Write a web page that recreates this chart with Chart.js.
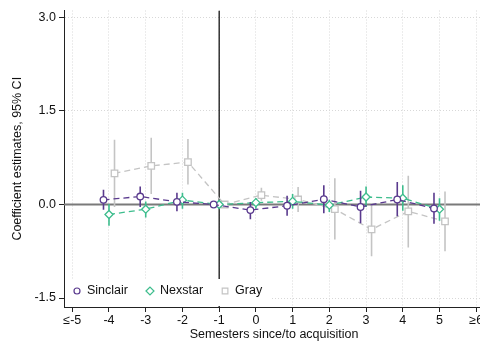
<!DOCTYPE html>
<html>
<head>
<meta charset="utf-8">
<script src="https://cdn.jsdelivr.net/npm/chart.js@4.4.1/dist/chart.umd.min.js"></script>
<style>
  html, body { margin: 0; padding: 0; background: #fff; overflow: hidden; }
  #wrap { width: 480px; height: 345px; overflow: hidden; }
</style>
</head>
<body>
<div id="wrap"><canvas id="chart" width="490" height="345"></canvas></div>
<script>
// semesters relative to acquisition (-1 is the reference period)
const periods = [-4, -3, -2, -1, 0, 1, 2, 3, 4, 5];

const sinclairCoef = [0.075, 0.128, 0.043, 0, -0.09, -0.02, 0.085, -0.04, 0.08, -0.064];
const sinclairLo   = [-0.085, -0.04, -0.11, null, -0.235, -0.18, -0.14, -0.30, -0.19, -0.31];
const sinclairHi   = [0.235, 0.29, 0.19, null, 0.04, 0.14, 0.31, 0.22, 0.36, 0.19];

const nexstarCoef = [-0.16, -0.075, 0.07, 0, 0.03, 0.05, -0.01, 0.12, 0.10, -0.075];
const nexstarLo   = [-0.34, -0.21, -0.07, null, -0.07, -0.07, -0.12, -0.04, -0.10, -0.26];
const nexstarHi   = [0.01, 0.05, 0.19, null, 0.10, 0.17, 0.075, 0.29, 0.31, 0.10];

const grayCoef = [0.50, 0.62, 0.68, 0, 0.15, 0.08, -0.075, -0.40, -0.11, -0.27];
const grayLo   = [-0.04, 0.17, 0.32, null, 0.06, -0.12, -0.56, -0.83, -0.69, -0.75];
const grayHi   = [1.04, 1.07, 1.05, null, 0.27, 0.28, 0.42, -0.02, 0.46, 0.21];

const xTicks = [-5, -4, -3, -2, -1, 0, 1, 2, 3, 4, 5, 6];
const xTickLabels = ['≤-5', '-4', '-3', '-2', '-1', '0', '1', '2', '3', '4', '5', '≥6'];
const yTicks = [-1.5, 0, 1.5, 3];

const X_MIN = -5.2254, X_MAX = 6.2146, Y_MIN = -1.644, Y_MAX = 3.112;
const FONT = 'Liberation Sans, Arial, sans-serif';

const PURPLE = '#5a3a8e';
const GREEN = '#3dbd8d';
const GRAY = '#c4c4c4';

function coefPoints(coef, off) {
    return periods.map((p, i) => ({ x: p + off, y: coef[i] }));
}

// vertical CI spikes, broken apart with null points
function ciPoints(lo, hi, off) {
    const pts = [];
    periods.forEach((p, i) => {
        if (lo[i] === null) return;
        pts.push({ x: p + off, y: lo[i] }, { x: p + off, y: hi[i] }, { x: p + off, y: null });
    });
    return pts;
}

function ciSet(lo, hi, off, color, order) {
    return {
        data: ciPoints(lo, hi, off),
        borderColor: color,
        borderWidth: 1.6,
        pointRadius: 0,
        spanGaps: false,
        order: order,
        inLegend: false
    };
}

function coefSet(label, coef, off, color, style, radius, order) {
    return {
        label: label,
        data: coefPoints(coef, off),
        borderColor: color,
        borderWidth: 1.3,
        borderDash: [6, 4],
        pointStyle: style,
        pointRadius: radius,
        pointBorderWidth: 1.3,
        pointBackgroundColor: '#fff',
        pointBorderColor: color,
        order: order,
        inLegend: true
    };
}

// legend drawn inside the plot, bottom-left, on a white box
const insideLegend = {
    id: 'insideLegend',
    afterDatasetsDraw(chart) {
        const ctx = chart.ctx;
        const area = chart.chartArea;
        ctx.save();
        ctx.fillStyle = '#fff';
        ctx.fillRect(area.left + 1, 279, 206, area.bottom - 279 - 1);
        ctx.font = '12.5px ' + FONT;
        ctx.textBaseline = 'middle';
        let x = 77;
        const y = 291;
        chart.data.datasets.filter(d => d.inLegend).reverse().forEach(d => {
            ctx.strokeStyle = d.borderColor;
            ctx.fillStyle = '#fff';
            ctx.lineWidth = 1.2;
            Chart.helpers.drawPoint(ctx, {
                pointStyle: d.pointStyle,
                radius: d.pointStyle === 'circle' ? 3 : 4,
                rotation: 0,
                borderWidth: 1.2
            }, x, y);
            ctx.fillStyle = '#111';
            ctx.fillText(d.label, x + 10, y);
            x += 10 + ctx.measureText(d.label).width + 22;
        });
        ctx.restore();
    }
};

new Chart(document.getElementById('chart').getContext('2d'), {
    type: 'line',
    data: {
        datasets: [
            coefSet('Gray', grayCoef, 0.15, GRAY, 'rect', 4.6, 5),
            ciSet(grayLo, grayHi, 0.15, GRAY, 6),
            coefSet('Nexstar', nexstarCoef, 0, GREEN, 'rectRot', 4, 3),
            ciSet(nexstarLo, nexstarHi, 0, GREEN, 4),
            coefSet('Sinclair', sinclairCoef, -0.15, PURPLE, 'circle', 3.3, 1),
            ciSet(sinclairLo, sinclairHi, -0.15, PURPLE, 2),
            {
                // zero line
                data: [{ x: X_MIN, y: 0 }, { x: X_MAX, y: 0 }],
                borderColor: '#7a7a7a', borderWidth: 2, pointRadius: 0, order: 9, inLegend: false
            },
            {
                // reference period line
                data: [{ x: -1, y: Y_MIN }, { x: -1, y: Y_MAX }],
                borderColor: '#000', borderWidth: 1.2, pointRadius: 0, order: 8, inLegend: false
            }
        ]
    },
    options: {
        responsive: false,
        animation: false,
        events: [],
        layout: { padding: { top: 10, right: 5, left: 0, bottom: 0 } },
        plugins: { legend: { display: false }, tooltip: { enabled: false } },
        scales: {
            x: {
                type: 'linear',
                min: X_MIN,
                max: X_MAX,
                afterBuildTicks: s => { s.ticks = xTicks.map(v => ({ value: v })); },
                afterFit: s => { s.height = 38; },
                ticks: {
                    callback: (v) => xTickLabels[xTicks.indexOf(v)],
                    color: '#111',
                    font: { family: FONT, size: 12.5 },
                    padding: 1,
                    maxRotation: 0,
                    autoSkip: false
                },
                grid: {
                    color: '#d8d8d8',
                    lineWidth: 1,
                    tickLength: 5,
                    tickColor: '#222',
                    tickBorderDash: []
                },
                border: { color: '#222', width: 1, dash: [1, 2] },
                title: {
                    display: true,
                    text: 'Semesters since/to acquisition',
                    color: '#111',
                    font: { family: FONT, size: 12.5 },
                    padding: { top: 0, bottom: 2.5 }
                }
            },
            y: {
                min: Y_MIN,
                max: Y_MAX,
                afterBuildTicks: s => { s.ticks = yTicks.map(v => ({ value: v })); },
                afterFit: s => { s.width = 64; },
                ticks: {
                    callback: v => v.toFixed(1),
                    color: '#111',
                    font: { family: FONT, size: 12.5 },
                    padding: 3
                },
                grid: {
                    color: '#d8d8d8',
                    lineWidth: 1,
                    tickLength: 5,
                    tickColor: '#222',
                    tickBorderDash: []
                },
                border: { color: '#222', width: 1, dash: [1, 2] },
                title: {
                    display: true,
                    text: 'Coefficient estimates, 95% CI',
                    color: '#111',
                    font: { family: FONT, size: 12.5 },
                    padding: { top: 10, bottom: 0 }
                }
            }
        }
    },
    plugins: [insideLegend]
});
</script>
</body>
</html>
